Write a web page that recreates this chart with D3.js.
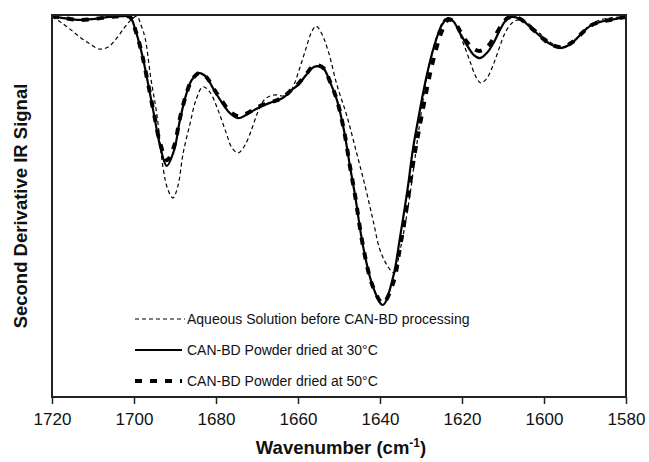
<!DOCTYPE html>
<html><head><meta charset="utf-8">
<script src="https://cdn.jsdelivr.net/npm/d3@7"></script>
<style>body{margin:0;background:#fff}svg{display:block}text{font-family:"Liberation Sans",Arial,sans-serif}</style>
</head><body><svg id="c" width="649" height="462"></svg>
<script>
// wavenumbers (cm-1) and second-derivative signal (arbitrary units)
const wnSolid = [1720,1716.6,1713.2,1709.5,1705.9,1702.9,1701.0,1699.5,1698.0,1696.6,1695.1,1693.7,1692.0,1690.2,1688.8,1687.3,1685.9,1684.1,1682.4,1680.5,1678.5,1676.6,1674.6,1672.7,1670.7,1668.8,1666.8,1664.9,1663.4,1661.5,1660.0,1658.0,1656.6,1655.1,1653.7,1652.2,1650.5,1648.8,1647.3,1646.1,1644.1,1641.7,1639.3,1636.8,1635.1,1633.2,1632.0,1630.5,1629.0,1627.6,1626.1,1624.9,1623.4,1622.0,1620.5,1618.8,1617.1,1615.6,1613.9,1612.2,1610.5,1609.0,1607.8,1605.9,1603.4,1601.0,1598.5,1595.6,1593.2,1590.7,1588.8,1586.3,1583.9,1581.5,1580];
const sig30 = [-0.3,-0.9,-1.3,-1.0,-0.5,-0.3,-0.5,-4.5,-10.5,-17.8,-26.2,-34.0,-39.5,-35.3,-27.5,-20.9,-17.0,-15.2,-16.2,-19.6,-23.0,-25.7,-27.0,-26.2,-24.9,-23.8,-23.0,-22.3,-21.5,-19.6,-18.3,-15.7,-13.9,-13.4,-14.1,-17.5,-22.3,-30.1,-39.8,-47.1,-60.7,-71.2,-75.9,-68.6,-58.1,-45.0,-35.3,-26.2,-17.8,-11.3,-5.8,-2.6,-0.8,-1.8,-4.7,-7.9,-10.5,-11.3,-9.9,-7.1,-3.4,-1.0,-0.5,-1.0,-3.1,-5.5,-7.6,-8.6,-7.3,-4.7,-2.9,-1.8,-1.3,-0.8,-0.5];
const sig50 = [-0.3,-0.9,-1.3,-1.0,-0.5,-0.3,-0.5,-4.5,-10.5,-17.8,-26.0,-33.2,-38.0,-34.3,-27.0,-20.9,-17.0,-15.2,-16.2,-19.4,-22.6,-25.2,-26.5,-25.9,-24.7,-23.6,-22.9,-22.2,-21.3,-19.5,-18.1,-15.5,-13.7,-13.2,-14.0,-17.4,-22.3,-30.1,-39.8,-47.1,-60.7,-71.2,-75.4,-70.2,-60.7,-48.4,-39.3,-30.1,-21.7,-14.4,-8.1,-4.2,-1.3,-1.6,-4.2,-7.1,-8.9,-9.4,-8.4,-6.0,-2.9,-0.9,-0.5,-1.0,-3.1,-5.5,-7.6,-8.4,-7.2,-4.7,-2.9,-1.8,-1.3,-0.8,-0.5];
const wnAq = [1720,1718.0,1715.6,1713.2,1710.7,1708.5,1706.3,1704.4,1702.4,1701.0,1699.3,1698.3,1697.3,1695.9,1694.4,1692.9,1691.7,1690.5,1689.3,1688.0,1686.3,1684.9,1683.2,1681.5,1679.5,1677.6,1676.1,1674.6,1672.9,1671.2,1669.8,1668.3,1666.8,1665.4,1663.9,1662.4,1661.0,1659.5,1658.0,1656.8,1655.6,1654.4,1652.7,1650.5,1648.0,1645.9,1643.7,1641.7,1640.0,1638.0,1636.6,1635.1,1633.9,1632.7,1631.7,1630.7,1629.5,1628.3,1626.8,1625.4,1623.9,1622.4,1621.0,1619.5,1618.0,1616.6,1615.4,1613.9,1612.4,1610.9,1609.5,1607.8,1606.3,1604.4,1602.2,1599.8,1597.3,1595.6,1593.7,1591.2,1588.8,1586.3,1583.9,1581.5,1580];
const sigAq = [-0.5,-1.8,-3.7,-5.8,-7.6,-8.9,-8.4,-6.3,-3.4,-1.6,-0.3,-2.6,-6.0,-16.5,-26.2,-40.1,-45.8,-47.9,-44.8,-36.1,-28.3,-22.3,-18.8,-20.2,-24.9,-30.6,-34.8,-36.1,-34.0,-29.6,-25.4,-22.3,-21.2,-20.9,-21.2,-20.9,-18.3,-13.6,-8.6,-4.7,-2.9,-4.5,-9.2,-18.3,-26.7,-35.3,-44.5,-53.7,-61.5,-66.0,-67.5,-61.5,-55.0,-47.1,-39.3,-31.4,-22.3,-14.4,-7.9,-3.4,-0.8,-1.3,-3.9,-7.9,-12.3,-16.2,-17.8,-16.5,-13.1,-8.6,-4.7,-2.1,-1.3,-1.8,-3.7,-6.0,-7.9,-8.4,-7.6,-5.2,-2.6,-1.3,-0.8,-0.5,-0.3];
const xTicks = [1720,1700,1680,1660,1640,1620,1600,1580];
const legendLabels = ["Aqueous Solution before CAN-BD processing","CAN-BD Powder dried at 30°C","CAN-BD Powder dried at 50°C"];

const svg = d3.select("#c");
const L=52, R=626, T=15, B=397;
const x = d3.scaleLinear().domain([1720,1580]).range([L,R]);
const y = d3.scaleLinear().domain([-100,0]).range([B,T]);

svg.append("clipPath").attr("id","clip").append("rect").attr("x",L).attr("y",T).attr("width",R-L).attr("height",B-T);

const series = [
  {wn:wnAq, v:sigAq, w:1.2, dash:"4,3"},
  {wn:wnSolid, v:sig30, w:2.2, dash:null},
  {wn:wnSolid, v:sig50, w:4, dash:"7,8"}
];
const line = d3.line().x(d=>x(d[0])).y(d=>y(d[1])).curve(d3.curveCatmullRom.alpha(0.5));
const g = svg.append("g").attr("clip-path","url(#clip)");
series.forEach(s=>{
  g.append("path").datum(s.wn.map((w,i)=>[w,s.v[i]]))
   .attr("d",line).attr("fill","none").attr("stroke","#000")
   .attr("stroke-width",s.w).attr("stroke-dasharray",s.dash);
});

// frame
svg.append("rect").attr("x",L).attr("y",T).attr("width",R-L).attr("height",B-T)
  .attr("fill","none").attr("stroke","#222").attr("stroke-width",2);

// x axis
const xa = svg.append("g").attr("transform",`translate(0,${B})`)
  .call(d3.axisBottom(x).tickValues(xTicks).tickFormat(d3.format("d")).tickSize(7).tickPadding(9));
xa.select(".domain").remove();
xa.selectAll(".tick line").attr("stroke","#222").attr("stroke-width",1.5);
xa.selectAll(".tick text").attr("font-size",17).attr("fill","#111").style("font-family","'Liberation Sans',Arial,sans-serif");

// axis titles
const xt = svg.append("text").attr("x",(L+R)/2+2).attr("y",454).attr("text-anchor","middle")
  .attr("font-size",18.5).attr("font-weight","bold").attr("fill","#111");
xt.append("tspan").text("Wavenumber (cm");
xt.append("tspan").attr("dy",-7).attr("font-size",12).text("-1");
xt.append("tspan").attr("dy",7).text(")");

svg.append("text").attr("transform",`translate(27,${(T+B)/2}) rotate(-90)`).attr("text-anchor","middle")
  .attr("font-size",18.5).attr("font-weight","bold").attr("fill","#111").text("Second Derivative IR Signal");

// legend
const ly = [319, 350, 381];
legendLabels.forEach((t,i)=>{
  const s = series[i];
  svg.append("line").attr("x1",135).attr("x2",i==0?185:182).attr("y1",ly[i]).attr("y2",ly[i])
    .attr("stroke","#000").attr("stroke-width",s.w).attr("stroke-dasharray",s.dash);
  svg.append("text").attr("x",187).attr("y",ly[i]+5).attr("font-size",14).attr("fill","#111").text(t);
});
</script></body></html>
